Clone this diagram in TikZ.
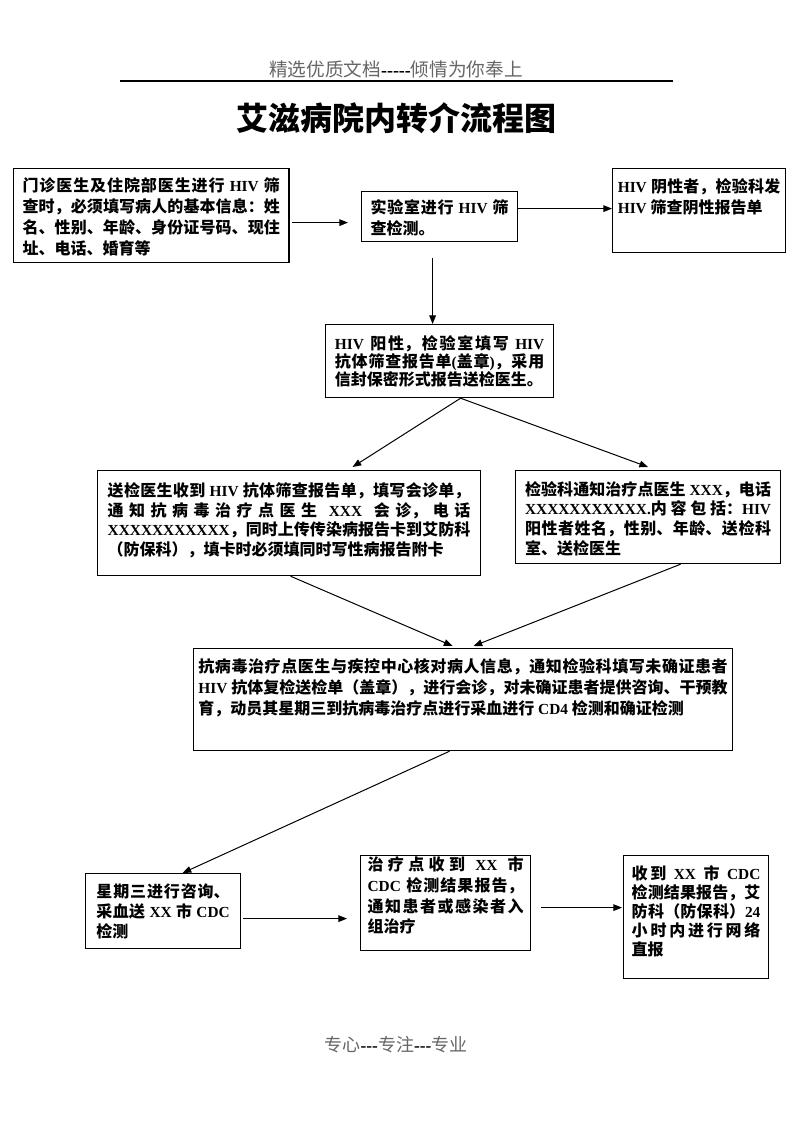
\documentclass[tikz,border=0pt]{standalone}
\usepackage{fontspec}
\setmainfont{Noto Sans CJK SC}
\newfontfamily\enfont{Liberation Serif}[Scale=0.96]
\usetikzlibrary{arrows.meta,calc}
\XeTeXlinebreaklocale "zh"
\XeTeXlinebreakskip=0pt plus 1pt
\newcommand{\en}[1]{{\enfont\bfseries#1}}
\newcommand{\flowfont}{\fontsize{12}{15.5}\selectfont\bfseries}
\newcommand{\flowtext}[4]{\parbox[t][#2][t]{#1}{\flowfont\vspace*{#3}#4}}

\begin{document}
\begin{tikzpicture}[x=0.75pt,y=-0.75pt,
	flow/.style={draw,line width=0.9pt,anchor=north west,inner ysep=0pt},
	link/.style={line width=0.75pt,-{Triangle[length=6.5pt,width=5pt]}}]
	\fill[white] (0,0) rectangle (793,1122);
	\useasboundingbox (0,0) rectangle (793,1122);

	\node (header) at (396,69) {\fontsize{14}{16}\selectfont\color{black!60}精选优质文档{\color{black}\en{-----}}倾情为你奉上};
	\draw[line width=0.9pt] (120,81) -- (673,81);
	\node (title) at (396,118) {\fontsize{24}{28}\selectfont\bfseries 艾滋病院内转介流程图};

	\node[flow,inner xsep=6.75pt] (ask) at (13,168) {\flowtext{193pt}{70.5pt}{7pt}{\baselineskip=15.75pt 门诊医生及住院部医生进行\en{ HIV }筛\linebreak 查时，必须填写病人的基本信息：姓\linebreak 名、性别、年龄、身份证号码、现住\linebreak 址、电话、婚育等}};
	\node[flow,inner xsep=6.75pt] (lab) at (361,191) {\flowtext{103.5pt}{37.5pt}{6pt}{\baselineskip=15.75pt 实验室进行\en{ HIV }筛\linebreak 查检测。}};
	\node[flow,inner xsep=3.9pt] (neg) at (612,168) {\flowtext{122pt}{63pt}{7.5pt}{\en{HIV }阴性者，检验科发\linebreak \en{HIV }筛查阴性报告单}};
	\node[flow,inner xsep=7pt] (pos) at (325,324) {\flowtext{157pt}{54.75pt}{8pt}{\baselineskip=13.5pt \en{HIV }阳性，检验室填写\en{ HIV}\linebreak 抗体筛查报告单\en{(}盖章\en{)}，采用\linebreak 信封保密形式报告送检医生。}};
	\node[flow,inner xsep=7.6pt] (rep) at (97,470) {\flowtext{272pt}{78.75pt}{9pt}{\baselineskip=14.8pt 送检医生收到\en{ HIV }抗体筛查报告单，填写会诊单，\linebreak 通知抗病毒治疗点医生\en{ XXX }会诊，电话\linebreak \en{XXXXXXXXXXX}，同时上传传染病报告卡到艾防科\linebreak （防保科），填卡时必须填同时写性病报告附卡}};
	\node[flow,inner xsep=7.1pt] (inf) at (515,470) {\flowtext{184.5pt}{69.75pt}{8pt}{\baselineskip=14.8pt 检验科通知治疗点医生\en{ XXX}，电话\linebreak \en{XXXXXXXXXXX.}内容包括：\en{HIV}\linebreak 阳性者姓名，性别、年龄、送检科\linebreak 室、送检医生}};
	\node[flow,inner xsep=3.6pt] (meet) at (193,648) {\flowtext{397pt}{76.5pt}{7.5pt}{\baselineskip=15.75pt 抗病毒治疗点医生与疾控中心核对病人信息，通知检验科填写未确证患者\linebreak \en{HIV }抗体复检送检单（盖章），进行会诊，对未确证患者提供咨询、干预教\linebreak 育，动员其星期三到抗病毒治疗点进行采血进行\en{ CD4 }检测和确证检测}};
	\node[flow,inner xsep=8.1pt] (blood) at (85,873) {\flowtext{100pt}{56.25pt}{7.5pt}{\baselineskip=15pt 星期三进行咨询、\linebreak 采血送\en{ XX }市\en{ CDC}\linebreak 检测}};
	\node[flow,inner xsep=5.25pt] (cdc) at (360,855) {\flowtext{117pt}{71.25pt}{1pt}{治疗点收到\en{ XX }市\linebreak \en{CDC }检测结果报告，\linebreak 通知患者或感染者入\linebreak 组治疗}};
	\node[flow,inner xsep=6.1pt] (web) at (623,855) {\flowtext{96.5pt}{92.25pt}{7.5pt}{\baselineskip=14.25pt 收到\en{ XX }市\en{ CDC}\linebreak 检测结果报告，艾\linebreak 防科（防保科）\en{24}\linebreak 小时内进行网络\linebreak 直报}};

	\draw[link] ($(ask.east)+(2,7)$) -- ($(lab.west)+(-13,6)$);
	\draw[link] ($(lab.east)+(0,-8)$) -- ($(neg.west)+(0,-2)$);
	\draw[link] ($(lab.south)+(-7,16)$) -- ($(pos.north)+(-7,0)$);
	\draw[link] ($(pos.south)+(21,0)$) -- ($(rep.north)+(63.5,-3)$);
	\draw[link] ($(pos.south)+(21,0)$) -- ($(inf.north)+(0,-3)$);
	\draw[link] ($(rep.south)+(1.5,0)$) -- ($(meet.north)+(-10.5,-2)$);
	\draw[link] ($(inf.south)+(32.5,0)$) -- ($(meet.north)+(10.5,-2)$);
	\draw[link] ($(meet.south)+(-13.5,0)$) -- ($(blood.north)+(19.5,0)$);
	\draw[link] ($(blood.east)+(2,7.5)$) -- ($(cdc.west)+(-13,15.5)$);
	\draw[link] ($(cdc.east)+(10,4.5)$) -- ($(web.west)+(-1,-9.5)$);

	\node (footer) at (396,1045) {\fontsize{13.5}{16}\selectfont\color{black!60}专心{\color{black}\en{---}}专注{\color{black}\en{---}}专业};
\end{tikzpicture}
\end{document}
